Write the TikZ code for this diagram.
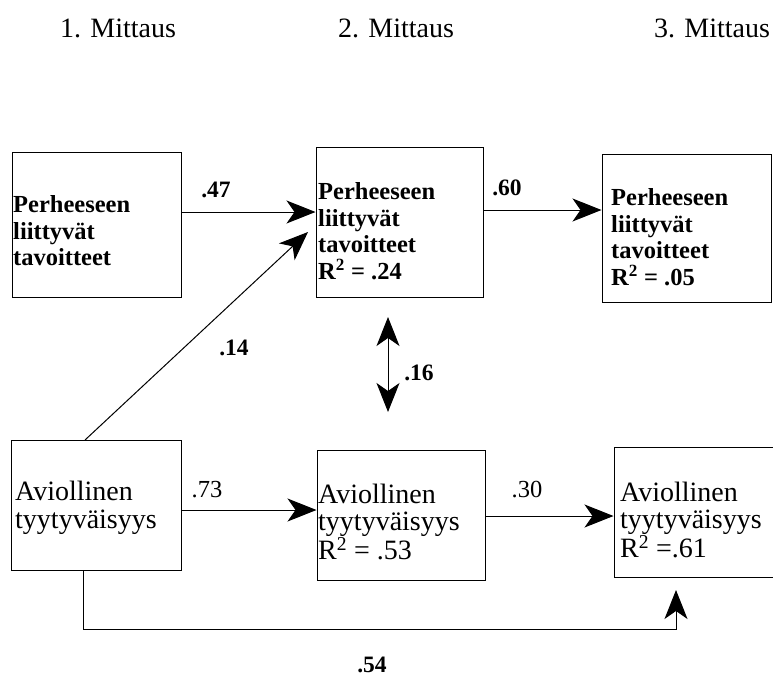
\documentclass[tikz,border=0pt]{standalone}
\usepackage{fontspec}
\setmainfont{Liberation Serif}
\usetikzlibrary{arrows.meta}
\begin{document}
\begin{tikzpicture}[x=1pt,y=-1pt,
  box/.style={draw,line width=1pt,inner sep=0pt,minimum width=#1},
  famtxt/.style={anchor=west,align=left,inner sep=0pt,font=\fontsize{24.5}{26.5}\selectfont\bfseries},
  avtxt/.style={anchor=west,align=left,inner sep=0pt,font=\fontsize{28}{27.5}\selectfont},
  head/.style={font=\fontsize{28}{30}\selectfont},
  coef/.style={font=\fontsize{23.5}{24}\selectfont\bfseries},
  coefr/.style={font=\fontsize{24.5}{26}\selectfont},
  tip/.style={Stealth[length=29pt,width=23pt,inset=8pt]},
  arr/.style={line width=1pt,-{Stealth[length=29pt,width=23pt,inset=8pt]}},
  darr/.style={line width=1pt,{Stealth[length=29pt,width=23pt,inset=8pt]}-{Stealth[length=29pt,width=23pt,inset=8pt]}}]
\clip (0,0) rectangle (773,677);
\fill[white] (0,0) rectangle (773,677);

% column headings
\node[head] (h1) at (118,28) {1. Mittaus};
\node[head] (h2) at (396,28) {2. Mittaus};
\node[head] (h3) at (712,28) {3. Mittaus};

% boxes
\node[box=169pt,minimum height=145pt] (A) at (96.5,224.5) {};
\node[box=167pt,minimum height=150pt] (B) at (399.5,222) {};
\node[box=169pt,minimum height=148pt] (C) at (686.5,228) {};
\node[box=170pt,minimum height=130pt] (D) at (96,505) {};
\node[box=168pt,minimum height=130pt] (E) at (401,515) {};
\node[box=176pt,minimum height=130pt] (F) at (702,512) {};

% box texts
\node[famtxt] (tA) at (13,231) {Perheeseen\\liittyvät\\tavoitteet};
\node[famtxt] (tB) at (318,231) {Perheeseen\\liittyvät\\tavoitteet\\R\textsuperscript{2} = .24};
\node[famtxt] (tC) at (611,237) {Perheeseen\\liittyvät\\tavoitteet\\R\textsuperscript{2} = .05};
\node[avtxt] (tD) at (15,508) {Aviollinen\\tyytyväisyys};
\node[avtxt] (tE) at (318,522) {Aviollinen\\tyytyväisyys\\R\textsuperscript{2} = .53};
\node[avtxt] (tF) at (620,520) {Aviollinen\\tyytyväisyys\\R\textsuperscript{2} =.61};

% connector end points
\coordinate (d14) at (85,440);
\coordinate (b14) at (308,232);
\coordinate (c16a) at (388,317);
\coordinate (c16b) at (388,412);
\coordinate (d54) at (83,570);
\coordinate (f54) at (676,590);

% paths
\draw[arr] (A.east |- 0,212) -- (B.west |- 0,212);
\draw[arr] (d14) -- (b14);
\draw[arr] (B.east |- 0,210) -- (C.west |- 0,210);
\draw[darr] (c16a) -- (c16b);
\draw[arr] (D.east |- 0,510) -- (E.west |- 0,510);
\draw[arr] (E.east |- 0,516) -- (F.west |- 0,516);
\draw[arr] (d54) -- (d54 |- 0,629) -- (f54 |- 0,629) -- (f54);

% coefficients
\node[coef] (k47) at (216,190) {.47};
\node[coef] (k14) at (234,348) {.14};
\node[coef] (k60) at (507,188) {.60};
\node[coef] (k16) at (419,373) {.16};
\node[coefr] (k73) at (207,490) {.73};
\node[coefr] (k30) at (527,490) {.30};
\node[coef] (k54) at (372,665) {.54};
\end{tikzpicture}
\end{document}
